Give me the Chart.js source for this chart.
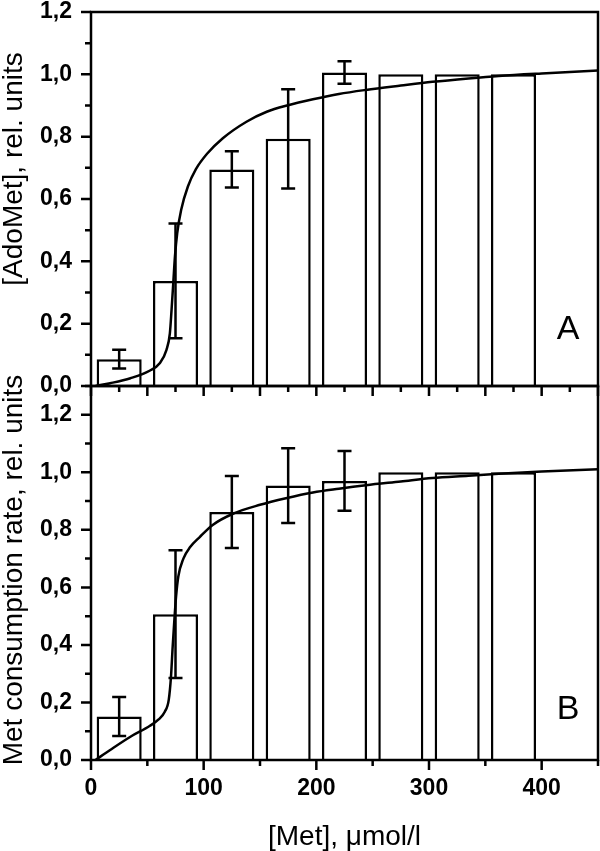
<!DOCTYPE html>
<html>
<head>
<meta charset="utf-8">
<title>AdoMet and Met consumption vs [Met]</title>
<script src="https://cdn.jsdelivr.net/npm/chart.js@4.4.1/dist/chart.umd.min.js"></script>
<style>
  html, body { margin: 0; padding: 0; background: #fff; }
  #wrap { position: relative; width: 600px; height: 851px; }
  #panelA { position: absolute; left: 0; top: 0; }
  #panelB { position: absolute; left: 0; top: 374px; }
</style>
</head>
<body>
<div id="wrap">
  <canvas id="panelA" width="600" height="400"></canvas>
  <canvas id="panelB" width="600" height="477"></canvas>
</div>
<script>
// bar positions, [Met] in umol/l
const barCenters = [25, 75, 125, 175, 225, 275, 325, 375];

// panel A: [AdoMet], rel. units
const adoMetValues = [0.086, 0.337, 0.695, 0.793, 1.006, 1.0, 1.0, 1.0];
const adoMetErrors = [0.030, 0.184, 0.058, 0.159, 0.036, 0, 0, 0];

// panel B: Met consumption rate, rel. units
const rateValues = [0.151, 0.507, 0.862, 0.954, 0.970, 1.0, 1.0, 1.0];
const rateErrors = [0.068, 0.222, 0.125, 0.130, 0.104, 0, 0, 0];

// fitted curves
const fitAX = [4, 17, 35, 52, 61, 67, 70, 71.5, 73, 74.5, 76.5, 80, 86, 93, 103, 117, 138, 156, 175, 197, 220, 244, 275, 303, 335, 362, 400, 450];
const fitAY = [0, 0.009, 0.025, 0.049, 0.073, 0.116, 0.169, 0.244, 0.329, 0.415, 0.49, 0.565, 0.64, 0.695, 0.745, 0.795, 0.848, 0.880, 0.901, 0.920, 0.937, 0.950, 0.964, 0.976, 0.987, 0.995, 1.003, 1.012];
const fitBX = [4, 17, 35, 52, 60, 65.5, 69, 71, 72.5, 74, 75.5, 77.5, 82, 88, 96.5, 108, 126, 150, 173, 197, 220, 244, 275, 303, 335, 362, 400, 450];
const fitBY = [0, 0.035, 0.081, 0.118, 0.141, 0.168, 0.209, 0.29, 0.394, 0.487, 0.568, 0.638, 0.70, 0.74, 0.775, 0.817, 0.856, 0.887, 0.910, 0.930, 0.943, 0.955, 0.968, 0.980, 0.988, 0.995, 1.003, 1.011];

// tick labels
const xTickLabels = [0, 100, 200, 300, 400];
const yTickLabels = ['0,0', '0,2', '0,4', '0,6', '0,8', '1,0', '1,2'];

const family = "'Liberation Sans', Arial, sans-serif";
const strokeW = 2.5;

function pairs(xs, ys) {
    return xs.map((x, i) => ({ x: x, y: ys[i] }));
}

function isMultiple(v, step) {
    const r = v / step;
    return Math.abs(r - Math.round(r)) < 1e-6;
}

// error bars on the bar dataset
const errorBars = {
    id: 'errorBars',
    afterDatasetsDraw(chart) {
        const ctx = chart.ctx;
        const ys = chart.scales.y;
        chart.data.datasets.forEach((ds, di) => {
            if (!ds.errors) return;
            const meta = chart.getDatasetMeta(di);
            ctx.save();
            ctx.strokeStyle = '#000';
            ctx.lineWidth = strokeW;
            ctx.beginPath();
            meta.data.forEach((bar, i) => {
                const err = ds.errors[i];
                if (!err) return;
                const v = ds.data[i].y;
                const top = ys.getPixelForValue(v + err);
                const bot = ys.getPixelForValue(v - err);
                ctx.moveTo(bar.x, top); ctx.lineTo(bar.x, bot);
                ctx.moveTo(bar.x - 7, top); ctx.lineTo(bar.x + 7, top);
                ctx.moveTo(bar.x - 7, bot); ctx.lineTo(bar.x + 7, bot);
            });
            ctx.stroke();
            ctx.restore();
        });
    }
};

// box around the plot and outward tick marks (long major, short minor)
const frameAndTicks = {
    id: 'frameAndTicks',
    afterDatasetsDraw(chart, args, opts) {
        const { ctx, chartArea: a } = chart;
        const xs = chart.scales.x, ys = chart.scales.y;
        ctx.save();
        ctx.strokeStyle = '#000';
        ctx.lineWidth = strokeW;
        ctx.strokeRect(a.left, a.top, a.right - a.left, a.bottom - a.top);
        ctx.beginPath();
        const nx = Math.round((xs.max - xs.min) / opts.xMinor);
        for (let i = 0; i <= nx; i++) {
            const v = xs.min + i * opts.xMinor;
            const px = xs.getPixelForValue(v);
            const len = isMultiple(v, opts.xMajor) ? 10 : 6;
            ctx.moveTo(px, a.bottom);
            ctx.lineTo(px, a.bottom + len);
        }
        const ny = Math.round((ys.max - ys.min) / 0.1);
        for (let i = 0; i <= ny; i++) {
            const py = ys.getPixelForValue(ys.min + i * 0.1);
            const len = i % 2 === 0 ? 10 : 6;
            ctx.moveTo(a.left - len, py);
            ctx.lineTo(a.left, py);
        }
        ctx.stroke();
        ctx.restore();
    }
};

// rotated y title and the panel letter
const panelText = {
    id: 'panelText',
    afterDraw(chart, args, opts) {
        const ctx = chart.ctx;
        ctx.save();
        ctx.fillStyle = '#000';
        ctx.font = '28px ' + family;
        ctx.textAlign = 'center';
        ctx.textBaseline = 'alphabetic';
        ctx.translate(opts.titleX, opts.titleY);
        ctx.rotate(-Math.PI / 2);
        ctx.fillText(opts.title, 0, 0);
        ctx.restore();

        ctx.save();
        ctx.fillStyle = '#000';
        ctx.font = '34px ' + family;
        ctx.textAlign = 'center';
        ctx.textBaseline = 'middle';
        ctx.fillText(opts.letter, opts.letterX, opts.letterY);
        ctx.restore();
    }
};

const tickFont = { family: family, size: 23, weight: 'bold', lineHeight: 1 };

function makePanel(canvasId, values, errors, fitX, fitY, yMax, showX, text) {
    const ctx = document.getElementById(canvasId).getContext('2d');
    return new Chart(ctx, {
        type: 'bar',
        data: {
            datasets: [{
                type: 'line',
                data: pairs(fitX, fitY),
                borderColor: '#000',
                borderWidth: strokeW,
                pointRadius: 0,
                cubicInterpolationMode: 'monotone',
                fill: false,
                order: 0
            }, {
                type: 'bar',
                data: pairs(barCenters, values),
                errors: errors,
                backgroundColor: '#fff',
                borderColor: '#000',
                borderWidth: strokeW,
                categoryPercentage: 0.8,
                barPercentage: 1.0,
                order: 1
            }]
        },
        options: {
            responsive: false,
            animation: false,
            events: [],
            layout: { padding: { top: 12, right: 2, left: 0, bottom: 0 } },
            scales: {
                x: {
                    type: 'linear',
                    min: 0,
                    max: 450,
                    offset: false,
                    grid: { display: false, drawTicks: true, tickLength: 17, offset: false },
                    border: { display: false },
                    ticks: {
                        display: showX,
                        stepSize: 50,
                        autoSkip: false,
                        maxRotation: 0,
                        padding: 0,
                        color: '#000',
                        font: tickFont,
                        callback: v => xTickLabels.includes(v) ? String(v) : ''
                    },
                    title: {
                        display: showX,
                        text: '[Met], \u03bcmol/l',
                        color: '#000',
                        font: { family: family, size: 28, lineHeight: 1 },
                        padding: 0
                    },
                    afterFit: s => { s.height = showX ? 91 : 14; }
                },
                y: {
                    min: 0,
                    max: yMax,
                    grid: { display: false, drawTicks: true, tickLength: 19 },
                    border: { display: false },
                    ticks: {
                        stepSize: 0.1,
                        autoSkip: false,
                        padding: 0,
                        color: '#000',
                        font: tickFont,
                        callback: v => {
                            const i = Math.round(v * 10);
                            return i % 2 === 0 && yTickLabels[i / 2] ? yTickLabels[i / 2] : '';
                        }
                    },
                    afterFit: s => { s.width = 91; }
                }
            },
            plugins: {
                legend: { display: false },
                tooltip: { enabled: false },
                frameAndTicks: { xMajor: showX ? 100 : 50, xMinor: showX ? 50 : 25 },
                panelText: text
            }
        },
        plugins: [errorBars, frameAndTicks, panelText]
    });
}

makePanel('panelA', adoMetValues, adoMetErrors, fitAX, fitAY, 1.2, false, {
    title: '[AdoMet], rel. units', titleX: 22, titleY: 169,
    letter: 'A', letterX: 568, letterY: 330
});

makePanel('panelB', rateValues, rateErrors, fitBX, fitBY, 1.3, true, {
    title: 'Met consumption rate, rel. units', titleX: 22, titleY: 196,
    letter: 'B', letterX: 568, letterY: 336
});
</script>
</body>
</html>
